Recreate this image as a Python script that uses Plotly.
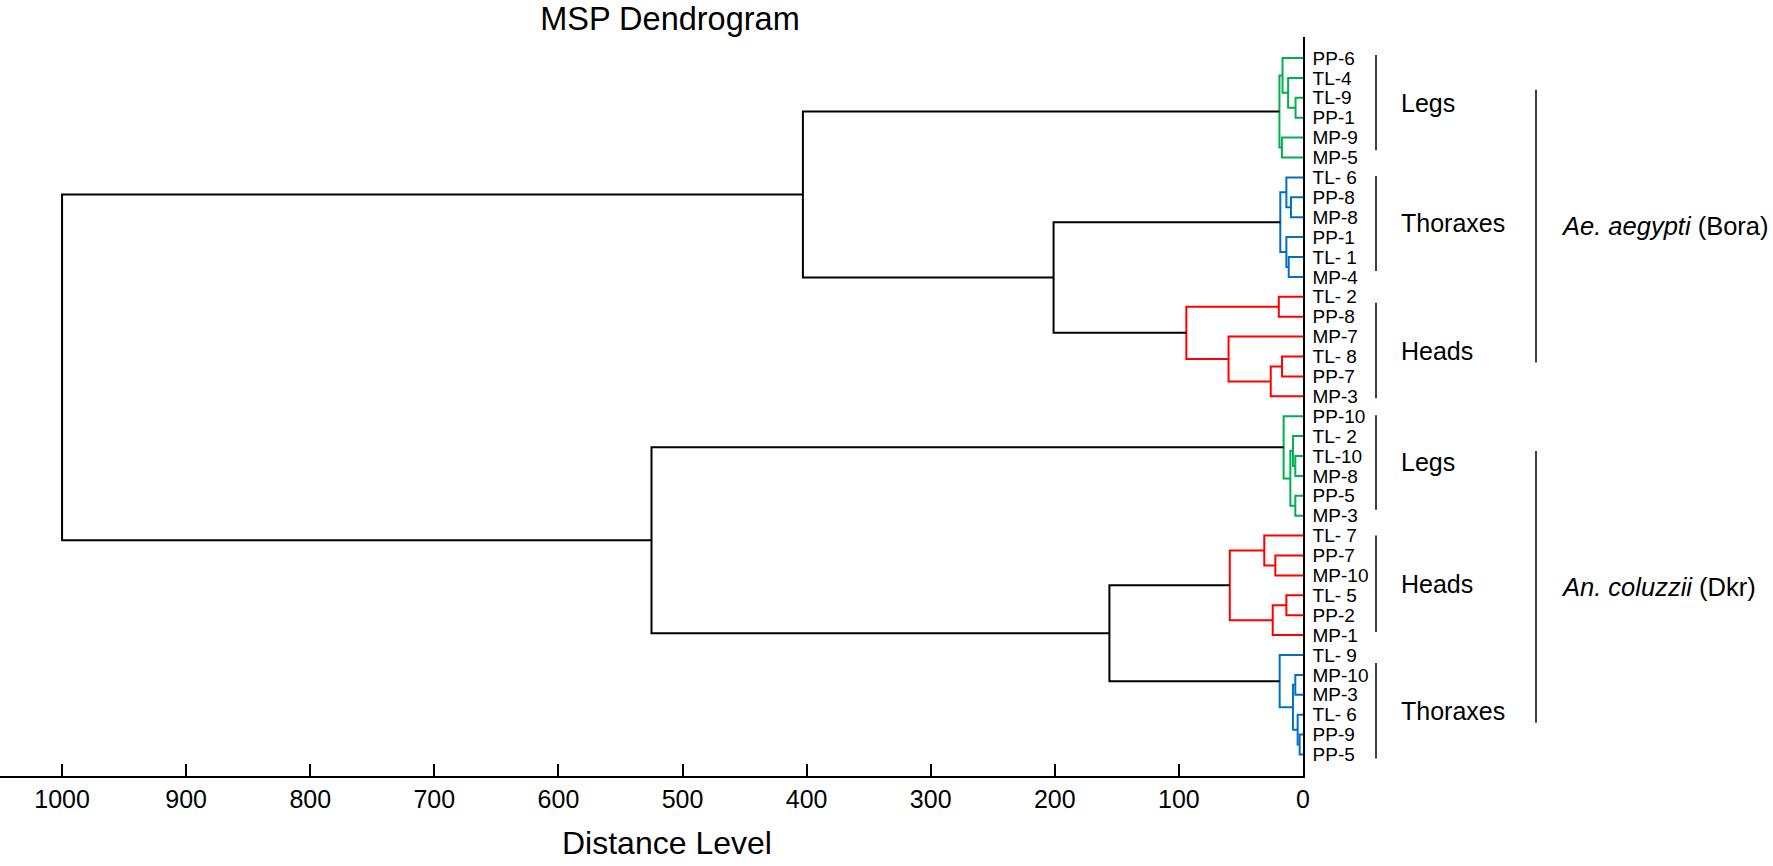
import plotly.graph_objects as go

# ---------------- data ----------------
leaf_labels = [
    "PP-6", "TL-4", "TL-9", "PP-1", "MP-9", "MP-5",
    "TL- 6", "PP-8", "MP-8", "PP-1", "TL- 1", "MP-4",
    "TL- 2", "PP-8", "MP-7", "TL- 8", "PP-7", "MP-3",
    "PP-10", "TL- 2", "TL-10", "MP-8", "PP-5", "MP-3",
    "TL- 7", "PP-7", "MP-10", "TL- 5", "PP-2", "MP-1",
    "TL- 9", "MP-10", "MP-3", "TL- 6", "PP-9", "PP-5",
]

# linkage: node ids 0..35 are leaves, merges create ids 36, 37, ...
merge_a = [2, 1, 0, 4, 38, 7, 6, 10, 9, 42, 12, 15, 47, 14, 46, 45, 40,
           20, 19, 22, 54, 18, 25, 24, 27, 60, 59, 31, 34, 33, 63, 30, 62, 57, 52]
merge_b = [3, 36, 37, 5, 39, 8, 41, 11, 43, 44, 13, 16, 17, 48, 49, 50, 51,
           21, 53, 23, 55, 56, 26, 58, 28, 29, 61, 32, 35, 64, 65, 66, 67, 68, 69]
merge_height = [6, 12, 16.5, 17, 19, 9.7, 13.4, 11.5, 13.4, 18.3, 19.5, 16.9, 26, 60, 94, 201, 403,
                6.2, 8.1, 6.2, 10.2, 15.6, 22.3, 31.2, 13.4, 24.4, 59, 6.2, 2.7, 4.3, 8.1, 18.8, 156, 525, 1000]
merge_group = ["legs"] * 5 + ["thor"] * 5 + ["heads"] * 5 + ["link"] * 2 + \
              ["legs"] * 5 + ["heads"] * 5 + ["thor"] * 5 + ["link"] * 3

x_ticks = [0, 100, 200, 300, 400, 500, 600, 700, 800, 900, 1000]

group_names = ["Legs", "Thoraxes", "Heads", "Legs", "Heads", "Thoraxes"]
group_span_start = [-0.15, 5.93, 12.3, 17.95, 24.0, 30.4]
group_span_end = [4.63, 10.7, 17.1, 22.7, 28.85, 35.2]

species_names = ["<i>Ae. aegypti</i> (Bora)", "<i>An. coluzzii</i> (Dkr)"]
species_span_start = [1.6, 19.75]
species_span_end = [15.3, 33.4]

# ---------------- styles ----------------
colors = {"legs": "#00B050", "thor": "#0070C0", "heads": "#FF0000", "link": "#000000"}
FONT = "Arial, Liberation Sans, sans-serif"
PLOT_W = 1303.0  # pixel width of plotting area

# ---------------- geometry from linkage ----------------
n = len(leaf_labels)
node_y = {i: float(i) for i in range(n)}
node_h = {i: 0.0 for i in range(n)}
segs = {k: ([], []) for k in colors}
for k, (a, b, h) in enumerate(zip(merge_a, merge_b, merge_height)):
    nid = n + k
    node_y[nid] = (node_y[a] + node_y[b]) / 2
    node_h[nid] = h
    xs, ys = segs[merge_group[k]]
    xs += [node_h[a], h, h, node_h[b], None]
    ys += [node_y[a], node_y[a], node_y[b], node_y[b], None]

fig = go.Figure()
for k, (xs, ys) in segs.items():
    fig.add_trace(go.Scatter(x=xs, y=ys, mode="lines",
                             line=dict(color=colors[k], width=2),
                             hoverinfo="skip", showlegend=False))

shapes = []
annotations = []
for name, s, e in zip(group_names, group_span_start, group_span_end):
    shapes.append(dict(type="line", xref="paper", yref="y",
                       x0=1376 / PLOT_W, x1=1376 / PLOT_W, y0=s, y1=e,
                       line=dict(color="black", width=1.5)))
    annotations.append(dict(xref="paper", yref="y", x=1399 / PLOT_W, y=(s + e) / 2,
                            text=name, showarrow=False, xanchor="left", yanchor="middle",
                            font=dict(size=25, color="black", family=FONT)))
for name, s, e in zip(species_names, species_span_start, species_span_end):
    shapes.append(dict(type="line", xref="paper", yref="y",
                       x0=1536 / PLOT_W, x1=1536 / PLOT_W, y0=s, y1=e,
                       line=dict(color="black", width=1.5)))
    annotations.append(dict(xref="paper", yref="y", x=1559 / PLOT_W, y=(s + e) / 2,
                            text=name, showarrow=False, xanchor="left", yanchor="middle",
                            font=dict(size=25.5, color="black", family=FONT)))

annotations.append(dict(xref="paper", yref="paper", x=667 / PLOT_W, y=-(843 - 776) / 739,
                        text="Distance Level", showarrow=False, xanchor="center", yanchor="middle",
                        font=dict(size=32, color="black", family=FONT)))

fig.update_layout(
    width=1773, height=866,
    margin=dict(l=0, r=1773 - 1303, t=37, b=90),
    paper_bgcolor="white", plot_bgcolor="white",
    title=dict(text="MSP Dendrogram", xref="paper", x=670 / PLOT_W, xanchor="center",
               yref="container", y=1 - 19 / 866, yanchor="middle",
               font=dict(size=32.5, color="black", family=FONT)),
    font=dict(family=FONT, color="black"),
    shapes=shapes, annotations=annotations,
    xaxis=dict(range=[1050, 0], tickvals=x_ticks, ticks="inside", ticklen=12, tickwidth=1.5,
               tickcolor="black", showline=True, linecolor="black", linewidth=1.5,
               showgrid=False, zeroline=False, tickfont=dict(size=25, color="black", family=FONT)),
    yaxis=dict(range=[36.08, -1.055], side="right", tickvals=list(range(n)), ticktext=leaf_labels,
               ticks="", showline=True, linecolor="black", linewidth=1.5, showgrid=False,
               zeroline=False, ticklabelstandoff=4,
               tickfont=dict(size=19, color="black", family=FONT)),
)

fig.write_html("out.html", config={"displayModeBar": False},
               post_script="document.body.style.margin='0';document.body.style.overflow='hidden';")
